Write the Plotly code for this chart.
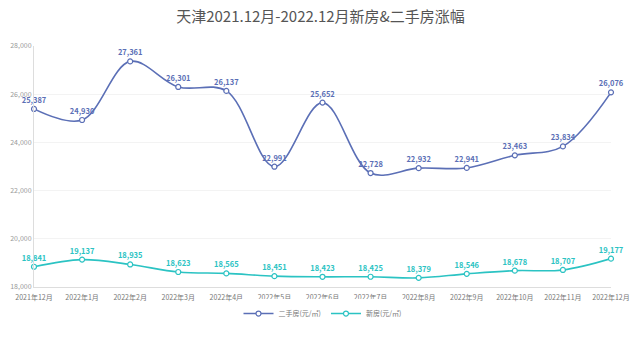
import plotly.graph_objects as go

months = ["2021年12月", "2022年1月", "2022年2月", "2022年3月", "2022年4月", "2022年5月",
          "2022年6月", "2022年7月", "2022年8月", "2022年9月", "2022年10月", "2022年11月", "2022年12月"]
second_hand = [25387, 24930, 27361, 26301, 26137, 22991, 25652, 22728, 22932, 22941, 23463, 23834, 26076]
new_home = [18841, 19137, 18935, 18623, 18565, 18451, 18423, 18425, 18379, 18546, 18678, 18707, 19177]
y_ticks = [18000, 20000, 22000, 24000, 26000, 28000]

FONT = "Noto Sans CJK SC, Noto Sans, sans-serif"
BLUE = "#5b6fb6"
TEAL = "#2bc3c3"

x = list(range(len(months)))

fig = go.Figure()
for name, vals, color in [("二手房(元/㎡)", second_hand, BLUE), ("新房(元/㎡)", new_home, TEAL)]:
    fig.add_trace(go.Scatter(
        x=x, y=vals, name=name, mode="lines+markers+text",
        line=dict(color=color, width=1.6, shape="spline", smoothing=1.0),
        marker=dict(size=5, color="white", line=dict(color=color, width=1.2)),
        text=[f"<b>{v:,}</b>" for v in vals], textposition="top center",
        textfont=dict(family=FONT, size=7.5, color=color),
        cliponaxis=False,
    ))

fig.update_layout(
    width=641, height=341,
    margin=dict(l=34, r=30, t=46, b=54, autoexpand=False),
    paper_bgcolor="white", plot_bgcolor="white",
    title=dict(text="天津2021.12月-2022.12月新房&二手房涨幅", x=0.5, xanchor="center",
               y=0.95, yanchor="middle", font=dict(family=FONT, size=15, color="#555555")),
    showlegend=True,
    legend=dict(orientation="h", x=0.5, xanchor="center", y=-0.05, yanchor="top",
                font=dict(family=FONT, size=7, color="#777777"), itemwidth=30),
    font=dict(family=FONT),
)
fig.update_xaxes(
    range=[0, 12], tickmode="array", tickvals=x, ticktext=months,
    tickfont=dict(family=FONT, size=7, color="#777777"),
    showgrid=False, showline=True, linecolor="#dddddd", linewidth=1,
    ticks="", zeroline=False, tickangle=0, ticklabelstandoff=4,
)
fig.update_yaxes(
    range=[18000, 28000], tickmode="array", tickvals=y_ticks,
    ticktext=[f"{v:,}" for v in y_ticks],
    tickfont=dict(family=FONT, size=7, color="#999999"),
    showgrid=True, gridcolor="#f3f3f3", gridwidth=1,
    showline=True, linecolor="#dddddd", linewidth=1, zeroline=False, ticks="",
)

fig.write_html("out.html")
